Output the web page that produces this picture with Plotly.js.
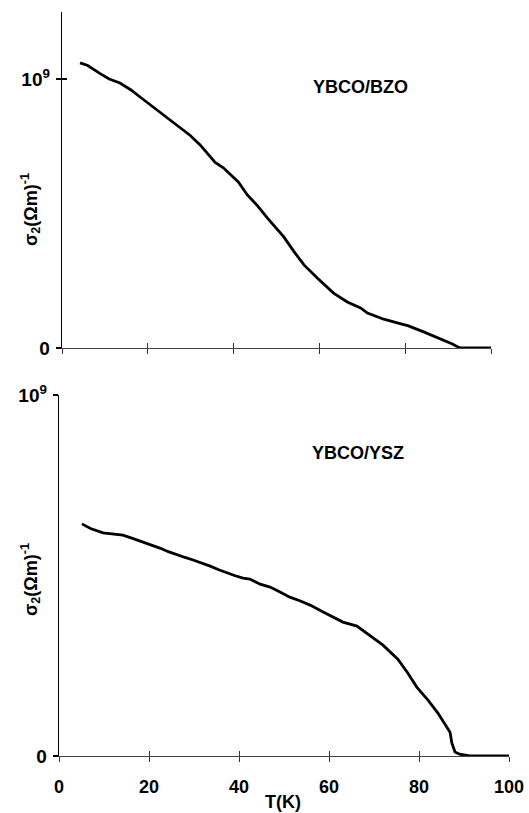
<!DOCTYPE html>
<html>
<head>
<meta charset="utf-8">
<script src="https://cdn.plot.ly/plotly-3.0.1.min.js"></script>
<style>html,body{margin:0;padding:0;background:#fff;}#chart{width:529px;height:813px;}</style>
</head>
<body>
<div id="chart"></div>
<script>
// Temperature (K) and sigma_2 in units of 1e9 (Ohm m)^-1
var tBZO = [4.2, 6, 8.9, 11, 13.5, 16, 18.2, 20.5, 22.9, 26, 29.9, 32.2, 35.7, 37.6, 41.1, 43.2, 45.5, 47.9, 51.7, 54, 56.4, 59.5, 63.3, 66.5, 69.6, 71.2, 75, 79, 80.6, 84.3, 87, 89, 91, 92.5, 93, 96, 100];
var sBZO = [1.06, 1.05, 1.02, 1.0, 0.985, 0.96, 0.933, 0.905, 0.877, 0.84, 0.79, 0.755, 0.69, 0.67, 0.617, 0.569, 0.53, 0.483, 0.413, 0.36, 0.309, 0.26, 0.204, 0.171, 0.149, 0.13, 0.107, 0.09, 0.083, 0.06, 0.043, 0.03, 0.015, 0.002, 0, 0, 0];

var tYSZ = [5.1, 7, 9.8, 12, 14.2, 16.5, 18.7, 20.5, 22.4, 24.3, 26.2, 28, 29.8, 31.7, 33.6, 35.5, 37.3, 39, 40.9, 42.4, 44.7, 46.9, 49, 51.3, 53.5, 55.8, 58.7, 61, 63.1, 66.2, 69, 72, 75.3, 77.5, 79.5, 82, 84.2, 85.5, 86.9, 87.3, 88, 89, 89.8, 91.3, 95, 100];
var sYSZ = [0.643, 0.63, 0.618, 0.615, 0.612, 0.602, 0.593, 0.585, 0.576, 0.566, 0.557, 0.55, 0.543, 0.535, 0.526, 0.516, 0.507, 0.5, 0.493, 0.49, 0.476, 0.468, 0.455, 0.44, 0.43, 0.418, 0.399, 0.385, 0.371, 0.36, 0.335, 0.307, 0.268, 0.23, 0.191, 0.155, 0.119, 0.095, 0.066, 0.036, 0.011, 0.005, 0.003, 0, 0, 0];

var xTicks = [0, 20, 40, 60, 80, 100];
var xTickText = ['0', '20', '40', '60', '80', '100'];
var yTicks = [0, 1];
var yTickText = ['0', '10<sup>9</sup>'];

var W = 529, H = 813;
function px(x){ return x / W; }
function py(y){ return (H - y) / H; }

var fam = 'Liberation Sans, Arial, Helvetica, sans-serif';
var lineStyle = {color: '#000', width: 2.8};

var traces = [
  {x: tBZO, y: sBZO, xaxis: 'x', yaxis: 'y', mode: 'lines', line: lineStyle, hoverinfo: 'skip', showlegend: false},
  {x: tYSZ, y: sYSZ, xaxis: 'x2', yaxis: 'y2', mode: 'lines', line: lineStyle, hoverinfo: 'skip', showlegend: false},
  {x: tBZO, y: sBZO, xaxis: 'x3', yaxis: 'y3', mode: 'lines', line: {width: 0}, opacity: 0, hoverinfo: 'skip', showlegend: false},
  {x: tYSZ, y: sYSZ, xaxis: 'x4', yaxis: 'y4', mode: 'lines', line: {width: 0}, opacity: 0, hoverinfo: 'skip', showlegend: false}
];

var base = {showgrid: false, zeroline: false, fixedrange: true, automargin: false};
function ax(o){ var r = {}; for (var k in base) r[k] = base[k]; for (var k2 in o) r[k2] = o[k2]; return r; }

var tickFontX = {family: fam, size: 18, color: '#000', weight: 'bold'};
var tickFontY = {family: fam, size: 19, color: '#000', weight: 'bold'};

var layout = {
  width: W, height: H,
  margin: {l: 0, r: 0, t: 0, b: 0},
  paper_bgcolor: '#fff', plot_bgcolor: 'rgba(0,0,0,0)',
  showlegend: false,
  // top panel
  xaxis: ax({domain: [px(62), px(491)], anchor: 'y', range: [0, 100], tickmode: 'array', tickvals: xTicks, showticklabels: false,
             ticks: 'outside', ticklen: 5, tickwidth: 1, tickcolor: '#333', showline: true, linecolor: '#444', linewidth: 1.2}),
  yaxis: ax({domain: [py(348), py(12)], anchor: 'x', range: [0, 1.249], tickmode: 'array', tickvals: yTicks, ticktext: yTickText,
             ticks: 'outside', ticklen: 5, tickwidth: 1.2, tickcolor: '#000', showline: true, linecolor: '#000', linewidth: 1.3,
             tickfont: tickFontY, ticklabelstandoff: 2}),
  xaxis3: ax({overlaying: 'x', anchor: 'y', range: [0, 100], tickmode: 'array', tickvals: xTicks, showticklabels: false,
              ticks: 'inside', ticklen: 5, tickwidth: 1, tickcolor: '#333', showline: false}),
  yaxis3: ax({overlaying: 'y', anchor: 'x', range: [0, 1.249], tickmode: 'array', tickvals: yTicks, showticklabels: false,
              ticks: 'inside', ticklen: 5, tickwidth: 1.2, tickcolor: '#000', showline: false}),
  // bottom panel
  xaxis2: ax({domain: [px(59), px(509)], anchor: 'y2', range: [0, 100], tickmode: 'array', tickvals: xTicks, ticktext: xTickText,
              ticks: 'outside', ticklen: 5, tickwidth: 1, tickcolor: '#333', showline: true, linecolor: '#444', linewidth: 1.2,
              tickfont: tickFontX, ticklabelstandoff: 9}),
  yaxis2: ax({domain: [py(756), py(395)], anchor: 'x2', range: [0, 1], tickmode: 'array', tickvals: yTicks, ticktext: yTickText,
              ticks: 'outside', ticklen: 5, tickwidth: 1.2, tickcolor: '#000', showline: true, linecolor: '#000', linewidth: 1.3,
              tickfont: tickFontY, ticklabelstandoff: 2}),
  xaxis4: ax({overlaying: 'x2', anchor: 'y2', range: [0, 100], tickmode: 'array', tickvals: xTicks, showticklabels: false,
              ticks: 'inside', ticklen: 5, tickwidth: 1, tickcolor: '#333', showline: false}),
  yaxis4: ax({overlaying: 'y2', anchor: 'x2', range: [0, 1], tickmode: 'array', tickvals: yTicks, showticklabels: false,
              ticks: 'inside', ticklen: 5, tickwidth: 1.2, tickcolor: '#000', showline: false}),
  annotations: [
    {text: 'YBCO/BZO', xref: 'paper', yref: 'paper', x: px(360), y: py(87), showarrow: false, xanchor: 'center', yanchor: 'middle',
     font: {family: fam, size: 18, color: '#000', weight: 'bold'}},
    {text: 'YBCO/YSZ', xref: 'paper', yref: 'paper', x: px(358), y: py(453), showarrow: false, xanchor: 'center', yanchor: 'middle',
     font: {family: fam, size: 18, color: '#000', weight: 'bold'}},
    {text: 'σ<sub>2</sub>(Ωm)<sup>-1</sup>', xref: 'paper', yref: 'paper', x: px(30), y: py(210), showarrow: false, textangle: -90,
     xanchor: 'center', yanchor: 'middle', font: {family: fam, size: 18, color: '#000', weight: 'bold'}},
    {text: 'σ<sub>2</sub>(Ωm)<sup>-1</sup>', xref: 'paper', yref: 'paper', x: px(30), y: py(580), showarrow: false, textangle: -90,
     xanchor: 'center', yanchor: 'middle', font: {family: fam, size: 18, color: '#000', weight: 'bold'}},
    {text: 'T(K)', xref: 'paper', yref: 'paper', x: px(283), y: py(802), showarrow: false, xanchor: 'center', yanchor: 'middle',
     font: {family: fam, size: 18, color: '#000', weight: 'bold'}}
  ]
};

Plotly.newPlot('chart', traces, layout, {staticPlot: true, displayModeBar: false});
</script>
</body>
</html>
